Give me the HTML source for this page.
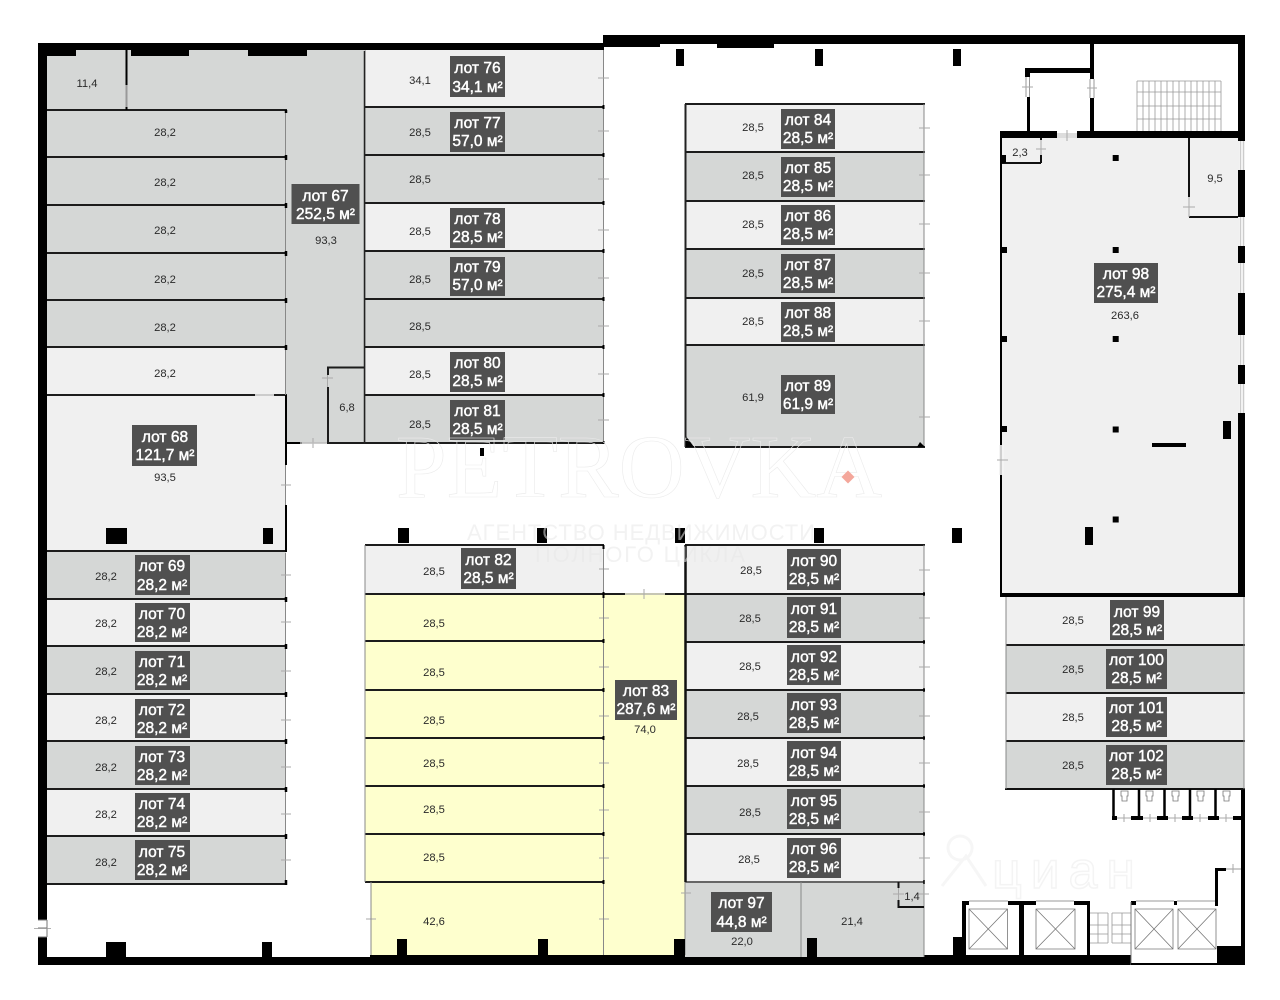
<!DOCTYPE html>
<html lang="ru"><head><meta charset="utf-8"><title>План этажа</title>
<style>
html,body{margin:0;padding:0;background:#fff}
svg{display:block;filter:blur(.35px)}
.g{fill:#d5d7d6}.w{fill:#f0f0f0}.y{fill:#feffce}
.k{fill:#000}
.b{fill:#505050}
.l{fill:#fff;font:15.5px "Liberation Sans",sans-serif;text-anchor:middle;stroke:#fff;stroke-width:.45}
.n{fill:#2a2a2a;font:11.2px "Liberation Sans",sans-serif;text-anchor:middle}
.ln{stroke:#1c1c1c;stroke-width:2;fill:none}
.th{stroke:#888;stroke-width:1;fill:none}
.d{stroke:#aaa;stroke-width:1;fill:none}
.s{stroke:#999;stroke-width:.8;fill:none}
.x{stroke:#777;stroke-width:.8;fill:none}
</style></head><body>
<svg width="1280" height="1000" viewBox="0 0 1280 1000" xmlns="http://www.w3.org/2000/svg">
<rect width="1280" height="1000" fill="#fff"/>

<!-- cells: lot 67 -->
<path class="g" d="M47 50H364V443H286V110H47Z"/>
<rect class="g" x="47" y="110" width="239" height="237"/>
<rect class="w" x="47" y="347" width="239" height="48"/>
<rect class="w" x="47" y="395" width="239" height="156"/>
<rect class="g" x="47" y="552" width="239" height="47"/>
<rect class="w" x="47" y="599" width="239" height="47"/>
<rect class="g" x="47" y="646" width="239" height="48"/>
<rect class="w" x="47" y="694" width="239" height="47"/>
<rect class="g" x="47" y="741" width="239" height="48"/>
<rect class="w" x="47" y="789" width="239" height="47"/>
<rect class="g" x="47" y="836" width="239" height="48"/>

<!-- column 2 -->
<rect class="w" x="365" y="50" width="239" height="57"/>
<rect class="g" x="365" y="107" width="239" height="96"/>
<rect class="w" x="365" y="203" width="239" height="48"/>
<rect class="g" x="365" y="251" width="239" height="96"/>
<rect class="w" x="365" y="347" width="239" height="48"/>
<rect class="g" x="365" y="395" width="239" height="48"/>

<!-- column 3 -->
<rect class="w" x="685" y="104" width="239" height="48"/>
<rect class="g" x="685" y="152" width="239" height="49"/>
<rect class="w" x="685" y="201" width="239" height="48"/>
<rect class="g" x="685" y="249" width="239" height="49"/>
<rect class="w" x="685" y="298" width="239" height="47"/>
<rect class="g" x="685" y="345" width="239" height="102"/>

<!-- lot 98 -->
<rect class="w" x="1001" y="138" width="238" height="458"/>
<rect class="w" x="1006" y="597" width="238" height="48"/>
<rect class="g" x="1006" y="645" width="238" height="48"/>
<rect class="w" x="1006" y="693" width="238" height="48"/>
<rect class="g" x="1006" y="741" width="238" height="48"/>

<!-- lots 82, 83 -->
<rect class="w" x="365" y="545" width="239" height="49"/>
<rect class="y" x="365" y="594" width="320" height="288"/>
<rect class="y" x="371" y="882" width="314" height="73"/>

<!-- column 4 -->
<rect class="w" x="685" y="545" width="239" height="49"/>
<rect class="g" x="685" y="594" width="239" height="48"/>
<rect class="w" x="685" y="642" width="239" height="48"/>
<rect class="g" x="685" y="690" width="239" height="48"/>
<rect class="w" x="685" y="738" width="239" height="48"/>
<rect class="g" x="685" y="786" width="239" height="48"/>
<rect class="w" x="685" y="834" width="239" height="48"/>
<rect class="g" x="685" y="882" width="239" height="75"/>

<!-- outer walls -->
<rect class="k" x="38" y="43" width="9" height="877"/>
<rect class="k" x="38" y="937" width="9" height="28"/>
<rect class="k" x="38" y="43" width="566" height="7"/>
<rect class="k" x="47" y="50" width="29" height="6"/>
<rect class="k" x="131" y="50" width="58" height="6"/>
<rect class="k" x="248" y="50" width="59" height="6"/>
<rect class="k" x="603" y="35" width="642" height="9"/>
<rect class="k" x="603" y="44" width="57" height="3"/>
<rect class="k" x="717" y="44" width="57" height="4"/>
<rect class="k" x="38" y="957" width="647" height="8"/>
<rect class="k" x="370" y="955" width="315" height="4"/>
<rect class="k" x="924" y="955" width="321" height="10"/>
<rect class="k" x="685" y="957" width="239" height="8"/>
<rect class="k" x="1238" y="35" width="7" height="106"/>
<rect class="k" x="1238" y="170" width="7" height="47"/>
<rect class="k" x="1238" y="246" width="7" height="17"/>
<rect class="k" x="1238" y="293" width="7" height="42"/>
<rect class="k" x="1238" y="365" width="7" height="19"/>
<rect class="k" x="1238" y="413" width="7" height="184"/>
<path d="M1240.5 141V170M1243.5 141V170M1240.5 217V246M1243.5 217V246M1240.5 263V293M1243.5 263V293M1240.5 335V365M1243.5 335V365M1240.5 384V413M1243.5 384V413" stroke="#ccc" stroke-width="1.5" fill="none"/>
<rect class="k" x="1241" y="789" width="4" height="176"/>
<path d="M38 920H47M38 928H47M38 937H47M47 920V937" stroke="#777" stroke-width="1" fill="none"/>
<path d="M34 928.5H51" class="s"/>

<!-- left block lines -->
<path class="ln" d="M47 110H287M47 157H287M47 205H287M47 253H287M47 300H287M47 347H287M47 395H255M274 395H287M47 551H287M47 599H287M47 646H287M47 694H287M47 741H287M47 789H287M47 836H287M47 884H287"/>
<path d="M255 395H274" stroke="#ccc" stroke-width="2"/>
<path class="th" d="M285.500 112V395M285.500 465V551M285.500 553V884"/>
<path d="M286 395V465M286 505V552M286 443H302" stroke="#000" stroke-width="2" fill="none"/>
<path d="M286 110v3M286 155v5M286 203v5M286 251v5M286 298v5M286 345v5M286 597v5M286 644v5M286 692v5M286 739v5M286 787v5M286 834v5M286 880v5" stroke="#000" stroke-width="2.500"/>
<path class="d" d="M281 485H291M281 575H291M281 622H291M281 671H291M281 720H291M281 767H291M281 814H291M281 860H291"/>
<path class="th" d="M365 50V443"/>
<path d="M126.500 50V85M126.500 107V110" stroke="#000" stroke-width="2"/>
<path d="M126.500 85V107" stroke="#999" stroke-width="2"/>
<!-- 6,8 room -->
<path d="M364 367.500H328V375M328 387V444" stroke="#1c1c1c" stroke-width="2" fill="none"/>
<path class="d" d="M327.500 375V387M322 378H333M313 438V448M302 443H327"/>
<path d="M300 443H326" stroke="#bbb" stroke-width="1.500"/>
<path d="M328 443H604" stroke="#1c1c1c" stroke-width="2"/>

<!-- column 2 lines -->
<path class="ln" d="M365 107H604M365 155H604M365 203H604M365 251H604M365 299H604M365 347H604M365 395H604"/>
<path d="M364.500 51V444" stroke="#222" stroke-width="1.500"/>
<path class="th" d="M603.500 50V443"/>
<path d="M603.500 105v4M603.500 153v4M603.500 201v4M603.500 249v4M603.500 297v4M603.500 345v4M603.500 393v4M603.500 441v3" stroke="#000" stroke-width="2"/>
<path class="d" d="M598 78H609M598 131H609M598 179H609M598 230H609M598 278H609M598 326H609M598 374H609M598 420H609"/>

<!-- column 3 lines -->
<path class="ln" d="M685 104H925M685 152H925M685 201H925M685 249H925M685 298H925M685 345H925M685 447H925"/>
<path d="M685.500 104V447" stroke="#222" stroke-width="2"/>
<path class="th" d="M924 104V447"/>
<path class="k" d="M686 436l8 11h-8zM920 442l5 5h-8z"/>
<path class="d" d="M919 128H930M919 175H930M919 224H930M919 273H930M919 321H930M919 417H930"/>

<!-- lots 82/83 lines -->
<path class="ln" d="M365 545H604M365 594H625M665 594H685M365 641H604M365 690H604M365 738H604M365 786H604M365 834H604M365 882H604"/>
<path d="M625 594H665" stroke="#c6c6b4" stroke-width="2"/>
<path class="d" d="M644 589V599M599 569H609M599 618H609M599 667H609M599 716H609M599 763H609M599 810H609M599 858H609M599 919H609M366 919H376"/>
<path class="th" d="M365 545V882M371 882V955M603.500 545V955"/>
<path d="M603.500 545v4M603.500 592v6M603.500 639v4M603.500 688v4M603.500 736v4M603.500 784v4M603.500 832v4M603.500 880v4" stroke="#000" stroke-width="2"/>

<!-- column 4 lines -->
<path class="ln" d="M685 545H925M685 594H925M685 642H925M685 690H925M685 738H925M685 786H925M685 834H925"/>
<path d="M685 882H924" stroke="#666" stroke-width="2"/>
<path d="M685.500 545V882" stroke="#111" stroke-width="2.500"/>
<path class="th" d="M924 545V957M801 882V957M685 882V955"/>
<path class="d" d="M919 570H930M919 618H930M919 667H930M919 716H930M919 763H930M919 812H930M919 858H930M681 893H691"/>
<path d="M924 592v4M924 640v4M924 688v4M924 736v4M924 784v4M924 832v4M924 880v4" stroke="#000" stroke-width="1.500"/>
<!-- 1,4 room -->
<path d="M898.500 882V888M898.500 900V907H924" stroke="#111" stroke-width="2" fill="none"/>
<path class="d" d="M898.500 888V900M893 894H904M918 894H929"/>

<!-- lot 98 walls -->
<path d="M1001 131V597" stroke="#000" stroke-width="2"/>
<rect x="999" y="445" width="5" height="30" fill="#f4f4f4"/>
<path class="d" d="M997 460H1008M1001 445V475"/>
<rect class="k" x="1000" y="593" width="245" height="4"/>
<rect class="k" x="1000" y="131" width="57" height="7"/>
<rect class="k" x="1077" y="131" width="168" height="7"/>
<rect x="1057" y="133" width="20" height="5" fill="#ddd"/>
<path class="d" d="M1067 130V141"/>
<!-- vestibule -->
<rect class="k" x="1025" y="68" width="69" height="5"/>
<rect class="k" x="1025" y="68" width="5" height="9"/>
<rect class="k" x="1027" y="97" width="3" height="34"/>
<rect class="k" x="1090" y="44" width="4" height="35"/>
<rect class="k" x="1090" y="98" width="4" height="33"/>
<path d="M1026 77V97M1029.500 77V97M1090 79V98M1094 79V98" stroke="#999" stroke-width="1"/>
<path class="d" d="M1022 87H1033M1087 88H1097"/>
<!-- stairs -->
<path class="s" d="M1137 81H1221M1137 92H1221M1137 106H1221M1137 119H1221M1137 81V131M1143 81V131M1149 81V131M1155 81V131M1161 81V131M1167 81V131M1173 81V131M1179 81V131M1185 81V131M1191 81V131M1197 81V131M1203 81V131M1209 81V131M1215 81V131M1221 81V131"/>
<!-- 2,3 -->
<path d="M1002 163H1041M1041 138V140M1041 155V163" stroke="#111" stroke-width="2" fill="none"/>
<path class="k" d="M1001 155h5v8h-5z"/>
<path class="d" d="M1041 140V155M1036 149H1046"/>
<!-- 9,5 -->
<path d="M1189 138V197M1189 217H1238" stroke="#111" stroke-width="2" fill="none"/>
<path class="d" d="M1189 197V217M1183 207H1195"/>
<!-- columns lot 98 -->
<path class="k" d="M1112.700 155h6v6h-6zM1112.700 247h6v6h-6zM1112.700 336h6v6h-6zM1112.700 426.500h6v6h-6zM1112.700 516.500h6v6h-6zM1002 247h5v6h-5zM1002 336h5v6h-5zM1002 426h5v6h-5zM1223 421h8v18h-8zM1152 443h34v4h-34zM1085 527h8v18h-8z"/>
<!-- lower right lots -->
<path class="ln" d="M1006 645H1245M1006 693H1245M1006 741H1245"/>
<path d="M1005 789H1245" stroke="#111" stroke-width="2"/>
<path class="th" d="M1006 597V789M1244 597V789"/>
<!-- toilets -->
<path d="M1113.500 789V819M1139 789V819M1164.500 789V819M1190 789V819M1215.500 789V819" stroke="#000" stroke-width="2.500"/>
<path class="k" d="M1112 816h5v4h-5zM1131 816h12v4h-12zM1157 816h11v4h-11zM1182 816h11v4h-11zM1208 816h11v4h-11zM1233 816h8v4h-8z"/>
<path class="d" d="M1117 818H1131M1143 818H1157M1168 818H1182M1193 818H1208M1219 818H1233M1124 814V822M1150 814V822M1175 814V822M1200 814V822M1226 814V822"/>
<path class="x" d="M1121 791h7v5h-1v5h-5v-5h-1zM1146 791h7v5h-1v5h-5v-5h-1zM1172 791h7v5h-1v5h-5v-5h-1zM1197 791h7v5h-1v5h-5v-5h-1zM1223 791h7v5h-1v5h-5v-5h-1z"/>
<!-- lifts -->
<rect class="k" x="953" y="937" width="12" height="18"/>
<rect class="k" x="962" y="901" width="4" height="54"/>
<rect class="k" x="962" y="901" width="7" height="4"/>
<rect class="k" x="1008" y="901" width="28" height="4"/>
<rect class="k" x="1019" y="901" width="5" height="54"/>
<rect class="k" x="1074" y="901" width="16" height="4"/>
<rect class="k" x="1087" y="901" width="3" height="54"/>
<path d="M969 901H1008M1036 901H1074" stroke="#999" stroke-width="1"/>
<path class="x" d="M969 909h38.500v40h-38.500zM969 909l38.500 40M1007.500 909l-38.500 40M1036 909h39v40h-39zM1036 909l39 40M1075 909l-39 40"/>
<!-- stair lift -->
<path class="s" d="M1090 913H1108M1090 925H1108M1090 934H1108M1090 943H1108M1098 913V943M1108 913V943M1112 913H1131M1112 925H1131M1112 934H1131M1112 943H1131M1112 913V943M1122 913V943"/>
<rect x="1131" y="902" width="86" height="61" fill="#fff"/>
<rect class="k" x="1131" y="901" width="5" height="4"/>
<rect class="k" x="1174" y="901" width="3" height="4"/>
<path d="M1136 901H1174M1177 901H1215" stroke="#999" stroke-width="1"/>
<path class="x" d="M1135 909h38v40h-38zM1135 909l38 40M1173 909l-38 40M1178 909h38v40h-38zM1178 909l38 40M1216 909l-38 40"/>
<path d="M1131 902V965" stroke="#777" stroke-width="1"/>
<rect class="k" x="1131" y="963" width="86" height="2"/>
<rect class="k" x="1217" y="946" width="28" height="19"/>
<rect class="k" x="1215" y="868" width="3" height="38"/>
<rect class="k" x="1215" y="868" width="11" height="3"/>
<path d="M1226 869H1241" stroke="#bbb" stroke-width="1.500"/>
<path class="d" d="M1233 864V873"/>

<!-- columns -->
<path class="k" d="M676 49h8v17h-8zM815 49h8v17h-8zM953 49h8v17h-8zM398 528h11v15h-11zM537 528h10v15h-10zM675 528h10v15h-10zM814 528h10v15h-10zM952 528h10v15h-10zM480 448h4v8h-4zM106 528h21v16h-21zM263 528h10v16h-10zM106 942h20v15h-20zM262 942h10v15h-10zM397 939h10v16h-10zM538 939h10v16h-10zM674 939h11v16h-11zM807 938h10v19h-10z"/>

<!-- numbers -->
<text class="n" x="87" y="87">11,4</text>
<text class="n" x="165" y="136">28,2</text><text class="n" x="165" y="186">28,2</text><text class="n" x="165" y="234">28,2</text><text class="n" x="165" y="283">28,2</text><text class="n" x="165" y="331">28,2</text><text class="n" x="165" y="377">28,2</text>
<text class="n" x="326" y="244">93,3</text><text class="n" x="347" y="411">6,8</text><text class="n" x="165" y="481">93,5</text>
<text class="n" x="420" y="84">34,1</text><text class="n" x="420" y="136">28,5</text><text class="n" x="420" y="183">28,5</text><text class="n" x="420" y="235">28,5</text><text class="n" x="420" y="283">28,5</text><text class="n" x="420" y="330">28,5</text><text class="n" x="420" y="378">28,5</text><text class="n" x="420" y="428">28,5</text>
<text class="n" x="753" y="131">28,5</text><text class="n" x="753" y="179">28,5</text><text class="n" x="753" y="228">28,5</text><text class="n" x="753" y="277">28,5</text><text class="n" x="753" y="325">28,5</text><text class="n" x="753" y="401">61,9</text>
<text class="n" x="1125" y="319">263,6</text><text class="n" x="1020" y="156">2,3</text><text class="n" x="1215" y="182">9,5</text>
<text class="n" x="434" y="575">28,5</text><text class="n" x="434" y="627">28,5</text><text class="n" x="434" y="676">28,5</text><text class="n" x="434" y="724">28,5</text><text class="n" x="434" y="767">28,5</text><text class="n" x="434" y="813">28,5</text><text class="n" x="434" y="861">28,5</text><text class="n" x="434" y="925">42,6</text>
<text class="n" x="645" y="733">74,0</text>
<text class="n" x="751" y="574">28,5</text><text class="n" x="750" y="622">28,5</text><text class="n" x="750" y="670">28,5</text><text class="n" x="748" y="720">28,5</text><text class="n" x="748" y="767">28,5</text><text class="n" x="750" y="816">28,5</text><text class="n" x="749" y="863">28,5</text>
<text class="n" x="742" y="945">22,0</text><text class="n" x="852" y="925">21,4</text><text class="n" x="912" y="900">1,4</text>
<text class="n" x="106" y="580">28,2</text><text class="n" x="106" y="627">28,2</text><text class="n" x="106" y="675">28,2</text><text class="n" x="106" y="724">28,2</text><text class="n" x="106" y="771">28,2</text><text class="n" x="106" y="818">28,2</text><text class="n" x="106" y="866">28,2</text>
<text class="n" x="1073" y="624">28,5</text><text class="n" x="1073" y="673">28,5</text><text class="n" x="1073" y="721">28,5</text><text class="n" x="1073" y="769">28,5</text>

<!-- labels -->
<rect class="b" x="291.500" y="184" width="68" height="40"/><text class="l" x="325.500" y="201">лот 67</text><text class="l" x="325.500" y="219">252,5 м²</text>
<rect class="b" x="132" y="425" width="65" height="41"/><text class="l" x="165" y="442">лот 68</text><text class="l" x="165" y="460">121,7 м²</text>
<rect class="b" x="135" y="555" width="55" height="40"/><text class="l" x="162" y="571">лот 69</text><text class="l" x="162" y="590">28,2 м²</text>
<rect class="b" x="135" y="603" width="55" height="39"/><text class="l" x="162" y="619">лот 70</text><text class="l" x="162" y="637">28,2 м²</text>
<rect class="b" x="135" y="651" width="55" height="39"/><text class="l" x="162" y="667">лот 71</text><text class="l" x="162" y="685">28,2 м²</text>
<rect class="b" x="135" y="699" width="55" height="39"/><text class="l" x="162" y="715">лот 72</text><text class="l" x="162" y="733">28,2 м²</text>
<rect class="b" x="135" y="746" width="55" height="39"/><text class="l" x="162" y="762">лот 73</text><text class="l" x="162" y="780">28,2 м²</text>
<rect class="b" x="135" y="793" width="55" height="39"/><text class="l" x="162" y="809">лот 74</text><text class="l" x="162" y="827">28,2 м²</text>
<rect class="b" x="135" y="840" width="55" height="40"/><text class="l" x="162" y="857">лот 75</text><text class="l" x="162" y="875">28,2 м²</text>
<rect class="b" x="450" y="56" width="55" height="41"/><text class="l" x="477.500" y="73">лот 76</text><text class="l" x="477.500" y="92">34,1 м²</text>
<rect class="b" x="450" y="112" width="55" height="40"/><text class="l" x="477.500" y="128">лот 77</text><text class="l" x="477.500" y="146">57,0 м²</text>
<rect class="b" x="450" y="208" width="55" height="40"/><text class="l" x="477.500" y="224">лот 78</text><text class="l" x="477.500" y="242">28,5 м²</text>
<rect class="b" x="450" y="257" width="55" height="39"/><text class="l" x="477.500" y="272">лот 79</text><text class="l" x="477.500" y="290">57,0 м²</text>
<rect class="b" x="450" y="352" width="55" height="40"/><text class="l" x="477.500" y="368">лот 80</text><text class="l" x="477.500" y="386">28,5 м²</text>
<rect class="b" x="450" y="400" width="55" height="40"/><text class="l" x="477.500" y="416">лот 81</text><text class="l" x="477.500" y="434">28,5 м²</text>
<rect class="b" x="781" y="109" width="54" height="40"/><text class="l" x="808" y="125">лот 84</text><text class="l" x="808" y="143">28,5 м²</text>
<rect class="b" x="781" y="157" width="54" height="40"/><text class="l" x="808" y="173">лот 85</text><text class="l" x="808" y="191">28,5 м²</text>
<rect class="b" x="781" y="205" width="54" height="40"/><text class="l" x="808" y="221">лот 86</text><text class="l" x="808" y="239">28,5 м²</text>
<rect class="b" x="781" y="254" width="54" height="39"/><text class="l" x="808" y="270">лот 87</text><text class="l" x="808" y="288">28,5 м²</text>
<rect class="b" x="781" y="302" width="54" height="40"/><text class="l" x="808" y="318">лот 88</text><text class="l" x="808" y="336">28,5 м²</text>
<rect class="b" x="781" y="375" width="54" height="39"/><text class="l" x="808" y="391">лот 89</text><text class="l" x="808" y="409">61,9 м²</text>
<rect class="b" x="1094" y="263" width="64" height="40"/><text class="l" x="1126" y="279">лот 98</text><text class="l" x="1126" y="297">275,4 м²</text>
<rect class="b" x="461" y="548" width="55" height="41"/><text class="l" x="488.500" y="565">лот 82</text><text class="l" x="488.500" y="583">28,5 м²</text>
<rect class="b" x="615" y="680" width="62" height="40"/><text class="l" x="646" y="696">лот 83</text><text class="l" x="646" y="714">287,6 м²</text>
<rect class="b" x="787" y="549" width="54" height="41"/><text class="l" x="814" y="566">лот 90</text><text class="l" x="814" y="584">28,5 м²</text>
<rect class="b" x="787" y="597" width="54" height="41"/><text class="l" x="814" y="614">лот 91</text><text class="l" x="814" y="632">28,5 м²</text>
<rect class="b" x="787" y="645" width="54" height="40"/><text class="l" x="814" y="662">лот 92</text><text class="l" x="814" y="680">28,5 м²</text>
<rect class="b" x="787" y="693" width="54" height="40"/><text class="l" x="814" y="710">лот 93</text><text class="l" x="814" y="728">28,5 м²</text>
<rect class="b" x="787" y="741" width="54" height="40"/><text class="l" x="814" y="758">лот 94</text><text class="l" x="814" y="776">28,5 м²</text>
<rect class="b" x="787" y="789" width="54" height="40"/><text class="l" x="814" y="806">лот 95</text><text class="l" x="814" y="824">28,5 м²</text>
<rect class="b" x="787" y="838" width="54" height="40"/><text class="l" x="814" y="854">лот 96</text><text class="l" x="814" y="872">28,5 м²</text>
<rect class="b" x="711" y="892" width="61" height="40"/><text class="l" x="741.500" y="908">лот 97</text><text class="l" x="741.500" y="927">44,8 м²</text>
<rect class="b" x="1110" y="600" width="54" height="40"/><text class="l" x="1137" y="617">лот 99</text><text class="l" x="1137" y="635">28,5 м²</text>
<rect class="b" x="1106" y="649" width="61" height="40"/><text class="l" x="1136.500" y="665">лот 100</text><text class="l" x="1136.500" y="683">28,5 м²</text>
<rect class="b" x="1106" y="697" width="61" height="40"/><text class="l" x="1136.500" y="713">лот 101</text><text class="l" x="1136.500" y="731">28,5 м²</text>
<rect class="b" x="1106" y="745" width="61" height="40"/><text class="l" x="1136.500" y="761">лот 102</text><text class="l" x="1136.500" y="779">28,5 м²</text>

<!-- watermarks -->
<text x="396" y="497" textLength="486" lengthAdjust="spacingAndGlyphs" font-family="'Liberation Serif',serif" font-size="90" fill="none" stroke="#ebebeb" stroke-width=".6">PETROVKA</text>
<path d="M848 470.500l6.500 6.500-6.500 6.500-6.500-6.500z" fill="#f4a79b"/>
<text x="467" y="540" textLength="348" font-family="'Liberation Sans',sans-serif" font-size="22" fill="#e8e8e8" opacity=".55">АГЕНТСТВО НЕДВИЖИМОСТИ</text>
<text x="535" y="562" textLength="210" font-family="'Liberation Sans',sans-serif" font-size="22" fill="#e8e8e8" opacity=".55">ПОЛНОГО ЦИКЛА</text>
<text x="992" y="888" textLength="143" font-family="'Liberation Sans',sans-serif" font-size="52" fill="none" stroke="#f4f4f4" stroke-width="1.500">циан</text>
<path d="M942 886l24-30 20 30M960 836a12 12 0 1 0 .1 0z" fill="none" stroke="#f6f6f6" stroke-width="3"/>
</svg>
</body></html>
